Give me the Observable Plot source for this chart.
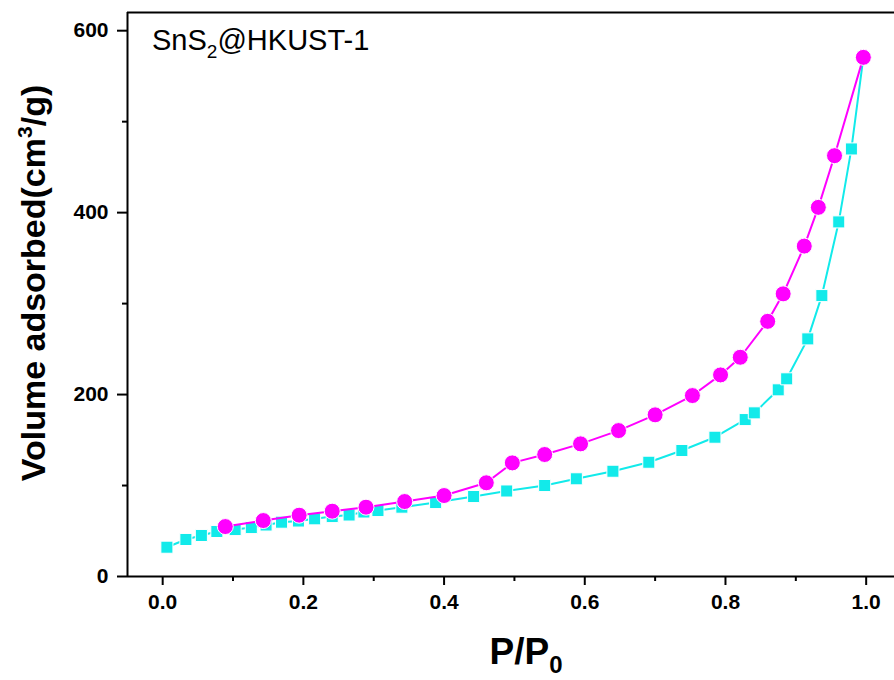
<!DOCTYPE html>
<html><head><meta charset="utf-8">
<script src="https://cdn.jsdelivr.net/npm/d3@7"></script>
<script src="https://cdn.jsdelivr.net/npm/@observablehq/plot@0.6"></script>
<style>body{margin:0;background:#fff} svg{display:block}</style>
</head><body><div id="chart"></div>
<script>
// Adsorption branch (cyan squares)
const adsP = [0.006,0.033,0.055,0.077,0.103,0.126,0.147,0.169,0.193,0.216,0.241,0.265,0.286,0.306,0.340,0.388,0.442,0.489,0.543,0.588,0.640,0.691,0.738,0.785,0.828,0.841,0.875,0.887,0.917,0.937,0.961,0.979,0.996];
const adsV = [32.2,40.7,45.1,49.5,51.6,53.8,56.6,59.7,61.0,63.4,65.9,67.6,70.9,72.5,76.2,81.3,87.9,94.0,100.0,107.4,115.7,125.6,138.5,153.1,172.5,179.9,205.2,217.3,261.2,308.8,389.8,470.0,570.7];
// Desorption branch (magenta circles)
const desP = [0.996,0.955,0.932,0.912,0.882,0.860,0.821,0.793,0.753,0.700,0.648,0.594,0.543,0.497,0.460,0.400,0.344,0.289,0.241,0.194,0.143,0.089];
const desV = [570.7,462.6,405.8,363.2,310.7,280.5,241.0,221.6,198.9,177.7,160.4,145.8,134.1,124.9,103.0,89.0,82.4,76.2,71.8,67.4,61.5,54.9];

const xTicks = [0,0.2,0.4,0.6,0.8,1.0];
const xMinor = [0.1,0.3,0.5,0.7,0.9];
const yTicks = [0,200,400,600];
const yMinor = [100,300,500];
const xTitle = ["P/P", "0"];
const yTitle = ["Volume adsorbed(cm", "3", "/g)"];
const sample = ["SnS", "2", "@HKUST-1"];

const cyan = "#12eaea";
const magenta = "#ff00ff";
const font = "'Liberation Sans', Arial, sans-serif";

const ads = adsP.map((p, i) => ({p, v: adsV[i]}));
const des = desP.map((p, i) => ({p, v: desV[i]}));

const chart = Plot.plot({
  width: 894, height: 680,
  marginLeft: 127, marginRight: 0, marginTop: 12, marginBottom: 104,
  style: {fontFamily: font, background: "#fff", color: "#000", overflow: "hidden"},
  x: {domain: [-0.05, 1.05], range: [127, 900.85]},
  y: {domain: [0, 620]},
  marks: [
    Plot.axisX(xTicks, {tickSize: 9, tickPadding: 9, tickFormat: d3.format(".1f"), fontSize: 21, fontWeight: "bold", strokeWidth: 2, label: null}),
    Plot.axisX(xMinor, {tickSize: 5, tickFormat: () => "", strokeWidth: 2, label: null}),
    Plot.axisY(yTicks, {tickSize: 10, tickPadding: 9, tickFormat: d3.format("d"), fontSize: 21, fontWeight: "bold", strokeWidth: 2, label: null}),
    Plot.axisY(yMinor, {tickSize: 5, tickFormat: () => "", strokeWidth: 2, label: null}),
    Plot.line(ads, {x: "p", y: "v", stroke: cyan, strokeWidth: 2}),
    Plot.dot(ads, {x: "p", y: "v", symbol: "square", r: 6.8, fill: cyan, stroke: "#fff", strokeWidth: 1}),
    Plot.line(des, {x: "p", y: "v", stroke: magenta, strokeWidth: 2}),
    Plot.dot(des, {x: "p", y: "v", r: 8, fill: magenta, stroke: "#fff", strokeWidth: 1}),
    Plot.ruleY([620], {stroke: "#000", strokeWidth: 2}),
    Plot.ruleX([-0.05], {stroke: "#000", strokeWidth: 2}),
    Plot.ruleY([0], {stroke: "#000", strokeWidth: 2})
  ]
});
document.getElementById("chart").appendChild(chart);

const svg = d3.select(chart);
// enlarge all axis tick labels (the only texts at this point)
svg.selectAll("text").each(function () {
  this.setAttribute("font-size", "21");
  this.setAttribute("font-weight", "bold");
  this.style.fontSize = "21px";
  this.style.fontWeight = "bold";
});
// y title
const yt = svg.append("text")
  .attr("transform", "translate(45,283) rotate(-90)")
  .attr("text-anchor", "middle")
  .style("font", `bold 34px ${font}`).attr("fill", "#000");
yt.append("tspan").text(yTitle[0]);
yt.append("tspan").attr("dy", -13).style("font-size", "21px").text(yTitle[1]);
yt.append("tspan").attr("dy", 13).text(yTitle[2]);
// x title
const xt = svg.append("text")
  .attr("x", 526).attr("y", 664)
  .attr("text-anchor", "middle")
  .style("font", `bold 37px ${font}`).attr("fill", "#000");
xt.append("tspan").text(xTitle[0]);
xt.append("tspan").attr("dy", 9).style("font-size", "24px").text(xTitle[1]);
// sample annotation
const st = svg.append("text")
  .attr("x", 152).attr("y", 50)
  .attr("text-anchor", "start")
  .style("font", `29px ${font}`).attr("fill", "#000");
st.append("tspan").text(sample[0]);
st.append("tspan").attr("dy", 8).style("font-size", "19px").text(sample[1]);
st.append("tspan").attr("dy", -8).text(sample[2]);
</script></body></html>
